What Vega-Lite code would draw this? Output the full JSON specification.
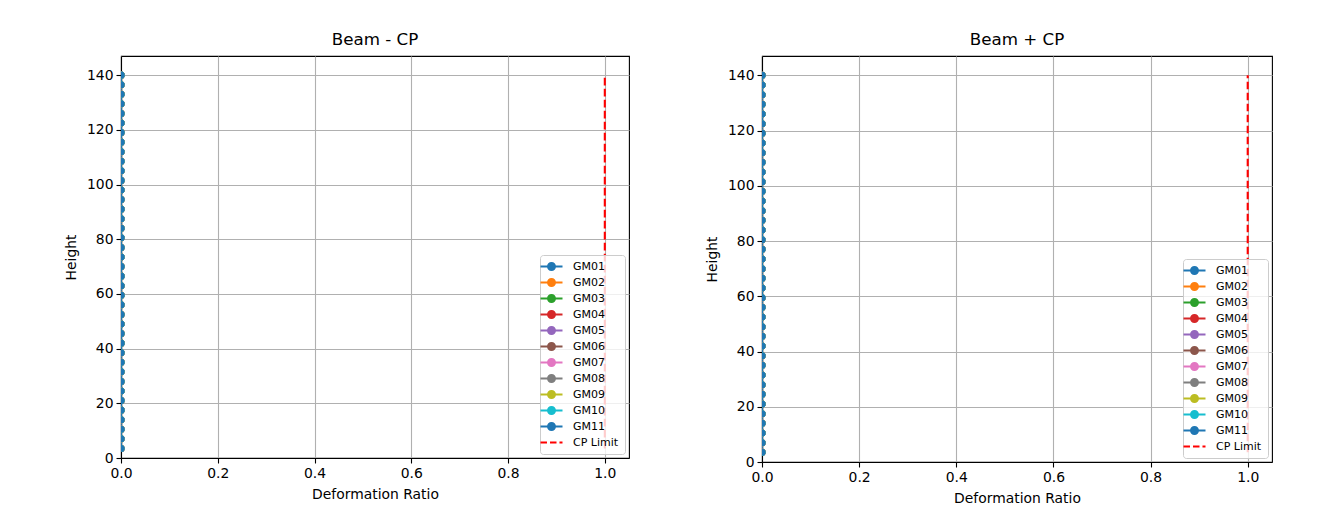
{
  "$schema": "https://vega.github.io/schema/vega-lite/v6.json",
  "background": "white",
  "padding": {"left": 63, "top": 31, "right": 5, "bottom": 5},
  "datasets": {
    "gm": [
      {"h":3.5,"GM01":0,"GM02":0,"GM03":0,"GM04":0,"GM05":0,"GM06":0,"GM07":0,"GM08":0,"GM09":0,"GM10":0,"GM11":0},
      {"h":7,"GM01":0,"GM02":0,"GM03":0,"GM04":0,"GM05":0,"GM06":0,"GM07":0,"GM08":0,"GM09":0,"GM10":0,"GM11":0},
      {"h":10.5,"GM01":0,"GM02":0,"GM03":0,"GM04":0,"GM05":0,"GM06":0,"GM07":0,"GM08":0,"GM09":0,"GM10":0,"GM11":0},
      {"h":14,"GM01":0,"GM02":0,"GM03":0,"GM04":0,"GM05":0,"GM06":0,"GM07":0,"GM08":0,"GM09":0,"GM10":0,"GM11":0},
      {"h":17.5,"GM01":0,"GM02":0,"GM03":0,"GM04":0,"GM05":0,"GM06":0,"GM07":0,"GM08":0,"GM09":0,"GM10":0,"GM11":0},
      {"h":21,"GM01":0,"GM02":0,"GM03":0,"GM04":0,"GM05":0,"GM06":0,"GM07":0,"GM08":0,"GM09":0,"GM10":0,"GM11":0},
      {"h":24.5,"GM01":0,"GM02":0,"GM03":0,"GM04":0,"GM05":0,"GM06":0,"GM07":0,"GM08":0,"GM09":0,"GM10":0,"GM11":0},
      {"h":28,"GM01":0,"GM02":0,"GM03":0,"GM04":0,"GM05":0,"GM06":0,"GM07":0,"GM08":0,"GM09":0,"GM10":0,"GM11":0},
      {"h":31.5,"GM01":0,"GM02":0,"GM03":0,"GM04":0,"GM05":0,"GM06":0,"GM07":0,"GM08":0,"GM09":0,"GM10":0,"GM11":0},
      {"h":35,"GM01":0,"GM02":0,"GM03":0,"GM04":0,"GM05":0,"GM06":0,"GM07":0,"GM08":0,"GM09":0,"GM10":0,"GM11":0},
      {"h":38.5,"GM01":0,"GM02":0,"GM03":0,"GM04":0,"GM05":0,"GM06":0,"GM07":0,"GM08":0,"GM09":0,"GM10":0,"GM11":0},
      {"h":42,"GM01":0,"GM02":0,"GM03":0,"GM04":0,"GM05":0,"GM06":0,"GM07":0,"GM08":0,"GM09":0,"GM10":0,"GM11":0},
      {"h":45.5,"GM01":0,"GM02":0,"GM03":0,"GM04":0,"GM05":0,"GM06":0,"GM07":0,"GM08":0,"GM09":0,"GM10":0,"GM11":0},
      {"h":49,"GM01":0,"GM02":0,"GM03":0,"GM04":0,"GM05":0,"GM06":0,"GM07":0,"GM08":0,"GM09":0,"GM10":0,"GM11":0},
      {"h":52.5,"GM01":0,"GM02":0,"GM03":0,"GM04":0,"GM05":0,"GM06":0,"GM07":0,"GM08":0,"GM09":0,"GM10":0,"GM11":0},
      {"h":56,"GM01":0,"GM02":0,"GM03":0,"GM04":0,"GM05":0,"GM06":0,"GM07":0,"GM08":0,"GM09":0,"GM10":0,"GM11":0},
      {"h":59.5,"GM01":0,"GM02":0,"GM03":0,"GM04":0,"GM05":0,"GM06":0,"GM07":0,"GM08":0,"GM09":0,"GM10":0,"GM11":0},
      {"h":63,"GM01":0,"GM02":0,"GM03":0,"GM04":0,"GM05":0,"GM06":0,"GM07":0,"GM08":0,"GM09":0,"GM10":0,"GM11":0},
      {"h":66.5,"GM01":0,"GM02":0,"GM03":0,"GM04":0,"GM05":0,"GM06":0,"GM07":0,"GM08":0,"GM09":0,"GM10":0,"GM11":0},
      {"h":70,"GM01":0,"GM02":0,"GM03":0,"GM04":0,"GM05":0,"GM06":0,"GM07":0,"GM08":0,"GM09":0,"GM10":0,"GM11":0},
      {"h":73.5,"GM01":0,"GM02":0,"GM03":0,"GM04":0,"GM05":0,"GM06":0,"GM07":0,"GM08":0,"GM09":0,"GM10":0,"GM11":0},
      {"h":77,"GM01":0,"GM02":0,"GM03":0,"GM04":0,"GM05":0,"GM06":0,"GM07":0,"GM08":0,"GM09":0,"GM10":0,"GM11":0},
      {"h":80.5,"GM01":0,"GM02":0,"GM03":0,"GM04":0,"GM05":0,"GM06":0,"GM07":0,"GM08":0,"GM09":0,"GM10":0,"GM11":0},
      {"h":84,"GM01":0,"GM02":0,"GM03":0,"GM04":0,"GM05":0,"GM06":0,"GM07":0,"GM08":0,"GM09":0,"GM10":0,"GM11":0},
      {"h":87.5,"GM01":0,"GM02":0,"GM03":0,"GM04":0,"GM05":0,"GM06":0,"GM07":0,"GM08":0,"GM09":0,"GM10":0,"GM11":0},
      {"h":91,"GM01":0,"GM02":0,"GM03":0,"GM04":0,"GM05":0,"GM06":0,"GM07":0,"GM08":0,"GM09":0,"GM10":0,"GM11":0},
      {"h":94.5,"GM01":0,"GM02":0,"GM03":0,"GM04":0,"GM05":0,"GM06":0,"GM07":0,"GM08":0,"GM09":0,"GM10":0,"GM11":0},
      {"h":98,"GM01":0,"GM02":0,"GM03":0,"GM04":0,"GM05":0,"GM06":0,"GM07":0,"GM08":0,"GM09":0,"GM10":0,"GM11":0},
      {"h":101.5,"GM01":0,"GM02":0,"GM03":0,"GM04":0,"GM05":0,"GM06":0,"GM07":0,"GM08":0,"GM09":0,"GM10":0,"GM11":0},
      {"h":105,"GM01":0,"GM02":0,"GM03":0,"GM04":0,"GM05":0,"GM06":0,"GM07":0,"GM08":0,"GM09":0,"GM10":0,"GM11":0},
      {"h":108.5,"GM01":0,"GM02":0,"GM03":0,"GM04":0,"GM05":0,"GM06":0,"GM07":0,"GM08":0,"GM09":0,"GM10":0,"GM11":0},
      {"h":112,"GM01":0,"GM02":0,"GM03":0,"GM04":0,"GM05":0,"GM06":0,"GM07":0,"GM08":0,"GM09":0,"GM10":0,"GM11":0},
      {"h":115.5,"GM01":0,"GM02":0,"GM03":0,"GM04":0,"GM05":0,"GM06":0,"GM07":0,"GM08":0,"GM09":0,"GM10":0,"GM11":0},
      {"h":119,"GM01":0,"GM02":0,"GM03":0,"GM04":0,"GM05":0,"GM06":0,"GM07":0,"GM08":0,"GM09":0,"GM10":0,"GM11":0},
      {"h":122.5,"GM01":0,"GM02":0,"GM03":0,"GM04":0,"GM05":0,"GM06":0,"GM07":0,"GM08":0,"GM09":0,"GM10":0,"GM11":0},
      {"h":126,"GM01":0,"GM02":0,"GM03":0,"GM04":0,"GM05":0,"GM06":0,"GM07":0,"GM08":0,"GM09":0,"GM10":0,"GM11":0},
      {"h":129.5,"GM01":0,"GM02":0,"GM03":0,"GM04":0,"GM05":0,"GM06":0,"GM07":0,"GM08":0,"GM09":0,"GM10":0,"GM11":0},
      {"h":133,"GM01":0,"GM02":0,"GM03":0,"GM04":0,"GM05":0,"GM06":0,"GM07":0,"GM08":0,"GM09":0,"GM10":0,"GM11":0},
      {"h":136.5,"GM01":0,"GM02":0,"GM03":0,"GM04":0,"GM05":0,"GM06":0,"GM07":0,"GM08":0,"GM09":0,"GM10":0,"GM11":0},
      {"h":140,"GM01":0,"GM02":0,"GM03":0,"GM04":0,"GM05":0,"GM06":0,"GM07":0,"GM08":0,"GM09":0,"GM10":0,"GM11":0}
    ],
    "cp": [
      {"s":"CP Limit","x":1,"h":3.5},
      {"s":"CP Limit","x":1,"h":140}
    ]
  },
  "config": {
    "view": {"stroke": "black", "strokeWidth": 1.1},
    "axis": {
      "domainColor": "black", "domainWidth": 1.1,
      "tickColor": "black", "tickWidth": 1.1, "tickSize": 5,
      "labelPadding": 3, "labelFont": "DejaVu Sans", "labelFontSize": 13.9, "labelColor": "black", "labelFlush": false,
      "titleFont": "DejaVu Sans", "titleFontSize": 13.9, "titleFontWeight": "normal", "titleColor": "black",
      "gridColor": "#b0b0b0", "gridWidth": 1.1, "gridOpacity": 1
    },
    "axisX": {"labelPadding": 3},
    "legend": {
      "title": null, "orient": "bottom-right", "offset": 4, "padding": 6,
      "strokeColor": "#cccccc", "fillColor": "rgba(255,255,255,0.8)", "cornerRadius": 3,
      "labelFont": "DejaVu Sans", "labelFontSize": 11, "labelColor": "black",
      "symbolSize": 121, "symbolStrokeWidth": 0, "symbolOpacity": 1, "rowPadding": 4, "labelOffset": 16
    },
    "title": {"font": "DejaVu Sans", "fontSize": 16.7, "fontWeight": "normal", "color": "black", "offset": 7}
  },
  "resolve": {"legend": {"color": "independent", "shape": "independent"}},
  "spacing": 74,
  "hconcat": [
    {
      "title": "Beam - CP",
      "width": 508,
      "height": 402,
      "layer": [
        {
          "data": {"name": "gm"},
          "transform": [{"fold": ["GM01","GM02","GM03","GM04","GM05","GM06","GM07","GM08","GM09","GM10","GM11"], "as": ["s","x"]}],
          "mark": {"type": "line", "strokeWidth": 2.1, "clip": true},
          "encoding": {
            "x": {"field": "x", "type": "quantitative", "scale": {"domain": [0, 1.05], "nice": false, "zero": false},
                  "axis": {"title": "Deformation Ratio", "values": [0, 0.2, 0.4, 0.6, 0.8, 1.0], "format": ".1f", "titlePadding": 8}},
            "y": {"field": "h", "type": "quantitative", "scale": {"domain": [0, 147], "nice": false},
                  "axis": {"title": "Height", "values": [0, 20, 40, 60, 80, 100, 120, 140], "format": "d", "titlePadding": 8}},
            "order": {"field": "h"},
            "color": {"field": "s", "type": "nominal", "title": null,
                      "scale": {"domain": ["GM01","GM02","GM03","GM04","GM05","GM06","GM07","GM08","GM09","GM10","GM11","CP Limit"],
                                "range": ["#1f77b4","#ff7f0e","#2ca02c","#d62728","#9467bd","#8c564b","#e377c2","#7f7f7f","#bcbd22","#17becf","#1f77b4","#ff0000"]}}
          }
        },
        {
          "data": {"name": "gm"},
          "transform": [{"fold": ["GM01","GM02","GM03","GM04","GM05","GM06","GM07","GM08","GM09","GM10","GM11"], "as": ["s","x"]}],
          "mark": {"type": "point", "filled": true, "size": 50, "opacity": 1, "clip": true},
          "encoding": {
            "x": {"field": "x", "type": "quantitative"},
            "y": {"field": "h", "type": "quantitative"},
            "color": {"field": "s", "type": "nominal", "title": null}
          }
        },
        {
          "data": {"name": "cp"},
          "mark": {"type": "line", "strokeDash": [7.7, 3.3], "strokeWidth": 2.1, "clip": true},
          "encoding": {
            "x": {"field": "x", "type": "quantitative"},
            "y": {"field": "h", "type": "quantitative"},
            "order": {"field": "h"},
            "color": {"field": "s", "type": "nominal", "title": null}
          }
        },
        {
          "data": {"name": "gm"},
          "transform": [{"fold": ["GM01","GM02","GM03","GM04","GM05","GM06","GM07","GM08","GM09","GM10","GM11"], "as": ["s","x"]}],
          "mark": {"type": "point", "filled": true, "opacity": 0, "size": 10, "clip": true},
          "encoding": {
            "x": {"field": "x", "type": "quantitative"},
            "y": {"field": "h", "type": "quantitative"},
            "color": {"field": "s", "type": "nominal", "title": null},
            "shape": {"field": "s", "type": "nominal", "title": null,
                      "scale": {"domain": ["GM01","GM02","GM03","GM04","GM05","GM06","GM07","GM08","GM09","GM10","GM11","CP Limit"],
                                "range": [
                                  "M-2,-0.19L2,-0.19L2,0.19L-2,0.19ZM-0.82,0A0.82,0.82,0,1,1,0.82,0A0.82,0.82,0,1,1,-0.82,0Z",
                                  "M-2,-0.19L2,-0.19L2,0.19L-2,0.19ZM-0.82,0A0.82,0.82,0,1,1,0.82,0A0.82,0.82,0,1,1,-0.82,0Z",
                                  "M-2,-0.19L2,-0.19L2,0.19L-2,0.19ZM-0.82,0A0.82,0.82,0,1,1,0.82,0A0.82,0.82,0,1,1,-0.82,0Z",
                                  "M-2,-0.19L2,-0.19L2,0.19L-2,0.19ZM-0.82,0A0.82,0.82,0,1,1,0.82,0A0.82,0.82,0,1,1,-0.82,0Z",
                                  "M-2,-0.19L2,-0.19L2,0.19L-2,0.19ZM-0.82,0A0.82,0.82,0,1,1,0.82,0A0.82,0.82,0,1,1,-0.82,0Z",
                                  "M-2,-0.19L2,-0.19L2,0.19L-2,0.19ZM-0.82,0A0.82,0.82,0,1,1,0.82,0A0.82,0.82,0,1,1,-0.82,0Z",
                                  "M-2,-0.19L2,-0.19L2,0.19L-2,0.19ZM-0.82,0A0.82,0.82,0,1,1,0.82,0A0.82,0.82,0,1,1,-0.82,0Z",
                                  "M-2,-0.19L2,-0.19L2,0.19L-2,0.19ZM-0.82,0A0.82,0.82,0,1,1,0.82,0A0.82,0.82,0,1,1,-0.82,0Z",
                                  "M-2,-0.19L2,-0.19L2,0.19L-2,0.19ZM-0.82,0A0.82,0.82,0,1,1,0.82,0A0.82,0.82,0,1,1,-0.82,0Z",
                                  "M-2,-0.19L2,-0.19L2,0.19L-2,0.19ZM-0.82,0A0.82,0.82,0,1,1,0.82,0A0.82,0.82,0,1,1,-0.82,0Z",
                                  "M-2,-0.19L2,-0.19L2,0.19L-2,0.19ZM-0.82,0A0.82,0.82,0,1,1,0.82,0A0.82,0.82,0,1,1,-0.82,0Z",
                                  "M-2,-0.19L-0.82,-0.19L-0.82,0.19L-2,0.19ZM-0.27,-0.19L0.91,-0.19L0.91,0.19L-0.27,0.19ZM1.45,-0.19L2,-0.19L2,0.19L1.45,0.19Z"
                                ]}}
          }
        }
      ]
    },
    {
      "title": "Beam + CP",
      "width": 510,
      "height": 406,
      "layer": [
        {
          "data": {"name": "gm"},
          "transform": [{"fold": ["GM01","GM02","GM03","GM04","GM05","GM06","GM07","GM08","GM09","GM10","GM11"], "as": ["s","x"]}],
          "mark": {"type": "line", "strokeWidth": 2.1, "clip": true},
          "encoding": {
            "x": {"field": "x", "type": "quantitative", "scale": {"domain": [0, 1.05], "nice": false, "zero": false},
                  "axis": {"title": "Deformation Ratio", "values": [0, 0.2, 0.4, 0.6, 0.8, 1.0], "format": ".1f", "titlePadding": 8}},
            "y": {"field": "h", "type": "quantitative", "scale": {"domain": [0, 147], "nice": false},
                  "axis": {"title": "Height", "values": [0, 20, 40, 60, 80, 100, 120, 140], "format": "d", "titlePadding": 8}},
            "order": {"field": "h"},
            "color": {"field": "s", "type": "nominal", "title": null}
          }
        },
        {
          "data": {"name": "gm"},
          "transform": [{"fold": ["GM01","GM02","GM03","GM04","GM05","GM06","GM07","GM08","GM09","GM10","GM11"], "as": ["s","x"]}],
          "mark": {"type": "point", "filled": true, "size": 50, "opacity": 1, "clip": true},
          "encoding": {
            "x": {"field": "x", "type": "quantitative"},
            "y": {"field": "h", "type": "quantitative"},
            "color": {"field": "s", "type": "nominal", "title": null}
          }
        },
        {
          "data": {"name": "cp"},
          "mark": {"type": "line", "strokeDash": [7.7, 3.3], "strokeWidth": 2.1, "clip": true},
          "encoding": {
            "x": {"field": "x", "type": "quantitative"},
            "y": {"field": "h", "type": "quantitative"},
            "order": {"field": "h"},
            "color": {"field": "s", "type": "nominal", "title": null}
          }
        },
        {
          "data": {"name": "gm"},
          "transform": [{"fold": ["GM01","GM02","GM03","GM04","GM05","GM06","GM07","GM08","GM09","GM10","GM11"], "as": ["s","x"]}],
          "mark": {"type": "point", "filled": true, "opacity": 0, "size": 10, "clip": true},
          "encoding": {
            "x": {"field": "x", "type": "quantitative"},
            "y": {"field": "h", "type": "quantitative"},
            "color": {"field": "s", "type": "nominal", "title": null},
            "shape": {"field": "s", "type": "nominal", "title": null}
          }
        }
      ]
    }
  ]
}
